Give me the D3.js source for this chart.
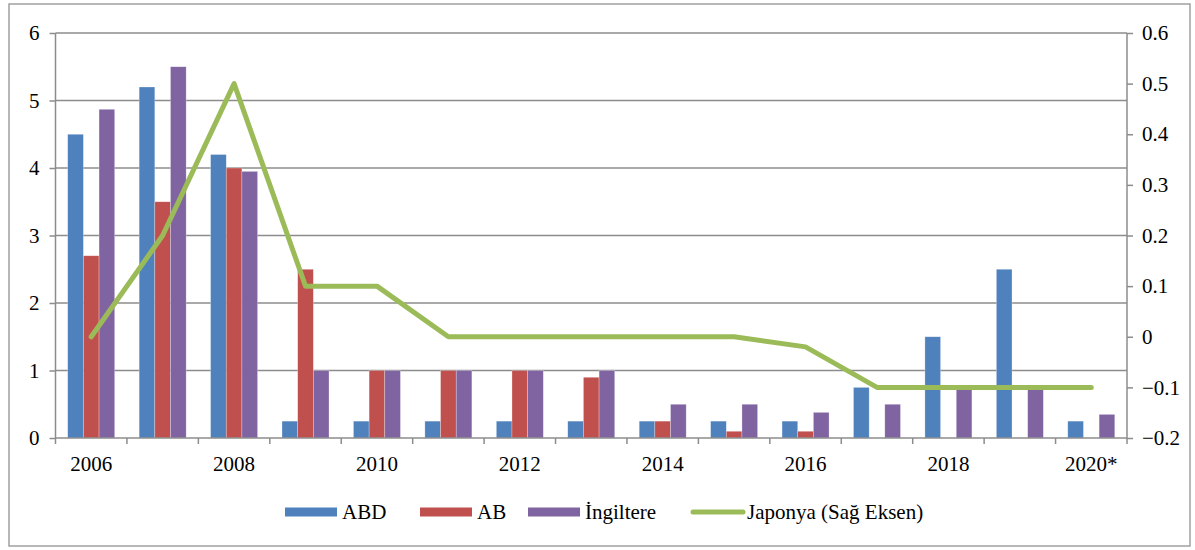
<!DOCTYPE html>
<html>
<head>
<meta charset="utf-8">
<script src="https://cdn.jsdelivr.net/npm/d3@7"></script>
<style>
  body { margin: 0; background: #fff; }
  svg { display: block; }
  svg text { font-family: "Liberation Serif", "Times New Roman", serif; }
</style>
</head>
<body>
<figure id="chart" style="margin:0"></figure>
<script>
// data
const years = ["2006","2007","2008","2009","2010","2011","2012","2013","2014","2015","2016","2017","2018","2019","2020*"];
const abd = [4.5, 5.2, 4.2, 0.25, 0.25, 0.25, 0.25, 0.25, 0.25, 0.25, 0.25, 0.75, 1.5, 2.5, 0.25];
const ab = [2.7, 3.5, 4.0, 2.5, 1, 1, 1, 0.9, 0.25, 0.1, 0.1, 0, 0, 0, 0];
const ingiltere = [4.87, 5.5, 3.95, 1, 1, 1, 1, 1, 0.5, 0.5, 0.38, 0.5, 0.75, 0.75, 0.35];
const japonya = [0, 0.2, 0.5, 0.1, 0.1, 0, 0, 0, 0, 0, -0.02, -0.1, -0.1, -0.1, -0.1];
const leftTicks = [0, 1, 2, 3, 4, 5, 6];
const rightTicks = [-0.2, -0.1, 0, 0.1, 0.2, 0.3, 0.4, 0.5, 0.6];

const barSeries = [
  { name: "ABD", values: abd, color: "#4F81BD" },
  { name: "AB", values: ab, color: "#C0504D" },
  { name: "İngiltere", values: ingiltere, color: "#8064A2" }
];
const lineColor = "#9BBB59";

const width = 1195, height = 550;
const plotLeft = 55.5, plotRight = 1127, plotTop = 33, plotBottom = 438;
const grey = "#8c8c8c";
const fontSize = 21;
const legendX = [285, 420, 528, 690];

const svg = d3.select("#chart").append("svg")
  .attr("width", width).attr("height", height);

// outer frame
svg.append("rect")
  .attr("x", 9).attr("y", 4).attr("width", 1181).attr("height", 542)
  .attr("fill", "none").attr("stroke", "#a0a0a0").attr("stroke-width", 1.5);

const x0 = d3.scaleBand().domain(years).range([plotLeft, plotRight]).padding(0);
const x1 = d3.scaleBand().domain(barSeries.map(s => s.name))
  .range([0, x0.bandwidth()]).paddingInner(0).paddingOuter(0.78);
const yL = d3.scaleLinear().domain([0, 6]).range([plotBottom, plotTop]);
const yR = d3.scaleLinear().domain([-0.2, 0.6]).range([plotBottom, plotTop]);

// gridlines
svg.append("g").selectAll("line")
  .data(leftTicks.filter(d => d > 0))
  .join("line")
  .attr("x1", plotLeft).attr("x2", plotRight)
  .attr("y1", d => yL(d)).attr("y2", d => yL(d))
  .attr("stroke", grey).attr("stroke-width", 1.5);

// bars
const groups = svg.append("g").selectAll("g")
  .data(barSeries)
  .join("g")
  .attr("fill", d => d.color);

groups.selectAll("rect")
  .data(s => s.values.map((v, i) => ({ s: s.name, v, year: years[i] })))
  .join("rect")
  .attr("x", d => x0(d.year) + x1(d.s))
  .attr("width", x1.bandwidth())
  .attr("y", d => yL(d.v))
  .attr("height", d => yL(0) - yL(d.v))
  .attr("stroke", "#ffffff").attr("stroke-opacity", 0.45).attr("stroke-width", 0.6);

// left axis
const axisL = svg.append("g").attr("transform", `translate(${plotLeft},0)`)
  .call(d3.axisLeft(yL).tickValues(leftTicks).tickSize(6).tickPadding(10).tickFormat(d3.format("d")));

// right axis
const axisR = svg.append("g").attr("transform", `translate(${plotRight},0)`)
  .call(d3.axisRight(yR).tickValues(rightTicks).tickSize(6).tickPadding(9)
    .tickFormat(d => d === 0 ? "0" : d3.format(".1f")(d)));

// bottom axis: ticks at category boundaries
const xb = svg.append("g");
xb.append("line")
  .attr("x1", plotLeft).attr("x2", plotRight).attr("y1", plotBottom).attr("y2", plotBottom)
  .attr("stroke", grey).attr("stroke-width", 1.5);
xb.selectAll("line.tk")
  .data(years.map(y => x0(y)).concat([plotRight]))
  .join("line").attr("class", "tk")
  .attr("x1", d => d).attr("x2", d => d)
  .attr("y1", plotBottom).attr("y2", plotBottom + 6)
  .attr("stroke", grey).attr("stroke-width", 1.5);
xb.selectAll("text")
  .data(years.filter((y, i) => i % 2 === 0))
  .join("text")
  .attr("x", d => x0(d) + x0.bandwidth() / 2)
  .attr("y", 471)
  .attr("text-anchor", "middle")
  .attr("font-size", fontSize)
  .attr("fill", "#000")
  .text(d => d);

[axisL, axisR].forEach(a => {
  a.attr("font-family", null).attr("font-size", null);
  a.select(".domain").attr("stroke", grey).attr("stroke-width", 1.5);
  a.selectAll(".tick line").attr("stroke", grey).attr("stroke-width", 1.5);
  a.selectAll(".tick text").attr("font-size", fontSize).attr("fill", "#000");
});
axisL.select(".domain").attr("d", `M0,${plotBottom}V${plotTop}`);
axisR.select(".domain").attr("d", `M0,${plotBottom}V${plotTop}`);

// Japonya line (right axis)
const line = d3.line()
  .x((d, i) => x0(years[i]) + x0.bandwidth() / 2)
  .y(d => yR(d));
svg.append("path")
  .datum(japonya)
  .attr("d", line)
  .attr("fill", "none")
  .attr("stroke", lineColor)
  .attr("stroke-width", 5)
  .attr("stroke-linejoin", "round")
  .attr("stroke-linecap", "round");

// legend
const legend = svg.append("g").attr("transform", "translate(0,512)");
const items = barSeries.map(s => ({ name: s.name, color: s.color, type: "bar" }))
  .concat([{ name: "Japonya (Sağ Eksen)", color: lineColor, type: "line" }]);
items.forEach((it, i) => {
  const lx = legendX[i];
  if (it.type === "bar") {
    legend.append("rect").attr("x", lx).attr("y", -4.5).attr("width", 52).attr("height", 9).attr("fill", it.color);
  } else {
    legend.append("line").attr("x1", lx + 3).attr("x2", lx + 53).attr("y1", 0).attr("y2", 0)
      .attr("stroke", it.color).attr("stroke-width", 5).attr("stroke-linecap", "round");
  }
  legend.append("text")
    .attr("x", lx + 57).attr("y", 0).attr("dy", "0.33em")
    .attr("font-size", fontSize).attr("fill", "#000")
    .text(it.name);
});
</script>
</body>
</html>
